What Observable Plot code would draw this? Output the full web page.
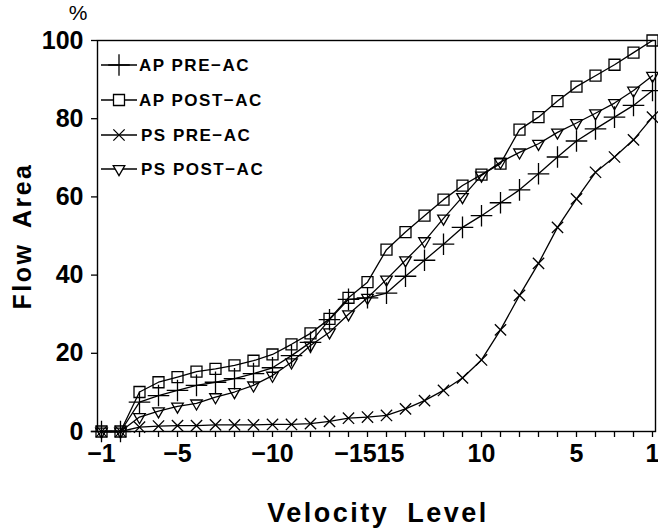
<!DOCTYPE html>
<html>
<head>
<meta charset="utf-8">
<script src="https://cdn.jsdelivr.net/npm/d3@7"></script>
<script src="https://cdn.jsdelivr.net/npm/@observablehq/plot@0.6"></script>
<style>
  html, body { margin: 0; padding: 0; background: #fff; }
  #chart { width: 658px; height: 529px; position: relative; }
</style>
</head>
<body>
<div id="chart"></div>
<script>
// Velocity levels in plotting order (negative side, then positive side)
const velocityLevels = [-1,-2,-3,-4,-5,-6,-7,-8,-9,-10,-11,-12,-13,-14,-15,15,14,13,12,11,10,9,8,7,6,5,4,3,2,1];
const labeledLevels = [-1,-5,-10,-15,15,10,5,1];
const yTicks = [0,20,40,60,80,100];

const seriesNames = ["AP PRE\u2212AC", "AP POST\u2212AC", "PS PRE\u2212AC", "PS POST\u2212AC"];

// Flow area (%) per velocity level
const apPre  = [0,0,7.5,9.2,10.5,11.8,12.6,13.5,14.8,16.3,19.4,22.8,28.6,33.8,34.2,35.4,39.7,43.8,47.9,52.2,55.2,58.5,61.8,65.9,70.2,74.3,77.4,80.4,83.4,87.2];
const apPost = [0,0,10.1,12.6,13.9,15.3,16.0,16.9,18.1,19.7,22.3,25.1,28.8,34.2,38.2,46.5,51.0,55.2,59.3,62.9,65.7,68.5,77.2,80.4,84.5,88.2,91.0,93.8,96.9,100];
const psPre  = [0,0,1.1,1.4,1.5,1.5,1.7,1.7,1.7,1.8,1.8,2.0,2.6,3.4,3.7,4.1,5.8,7.9,10.5,13.7,18.3,26.0,34.8,43.0,52.2,59.5,66.3,70.2,74.6,80.4];
const psPost = [0,0,3.7,5.2,6.4,7.2,8.8,10.1,11.8,14.3,17.7,22.0,25.4,30.0,34.2,38.9,43.8,48.7,54.5,60.0,65.5,68.9,71.4,73.6,76.5,78.9,81.4,84.0,87.2,91.0];

const seriesValues = [apPre, apPost, psPre, psPost];
const symbols = ["plus", "square", "times", "triangle"];
const symbolR = [7, 6.2, 5.2, 4.3];
const symbolRotate = [0, 0, 0, 180];

const table = [];
seriesNames.forEach((name, s) => {
  velocityLevels.forEach((lv, i) => table.push({series: name, s, level: lv, value: seriesValues[s][i]}));
});

const fmtLevel = d => (d < 0 ? "\u2212" + Math.abs(d) : String(d));

const W = 658, H = 529;
const FONT = "'Liberation Sans', Arial, Helvetica, sans-serif";

const dotMarks = seriesNames.map((name, s) =>
  Plot.dot(table.filter(d => d.s === s), {
    x: "level", y: "value", symbol: () => symbols[s], r: symbolR[s],
    rotate: symbolRotate[s], fill: "none", stroke: "black", strokeWidth: 1.3
  })
);

const svg = Plot.plot({
  width: W, height: H,
  marginLeft: 97, marginRight: 3, marginTop: 40, marginBottom: 98,
  style: {fontFamily: FONT, fontWeight: "bold", fontSize: "25px", color: "black", background: "white"},
  x: {type: "point", domain: velocityLevels, padding: 0},
  y: {domain: [0, 100]},
  symbol: {type: "identity"},
  marks: [
    Plot.frame({stroke: "black", strokeWidth: 1.4}),
    Plot.axisY({ticks: yTicks, tickSize: 6, tickPadding: 8, label: null, strokeWidth: 1.3}),
    Plot.axisX({ticks: velocityLevels, tickSize: 6, tickPadding: 7, label: null, strokeWidth: 1.3,
      tickFormat: d => (labeledLevels.includes(d) && Math.abs(d) !== 15) ? fmtLevel(d) : ""}),
    // the two adjacent "15" labels are nudged apart so they read "−1515" as in the original
    Plot.axisX({ticks: [-15], tickSize: 0, tickPadding: 13, dx: -12, label: null, tickFormat: fmtLevel}),
    Plot.axisX({ticks: [15], tickSize: 0, tickPadding: 13, dx: 4, label: null, tickFormat: fmtLevel}),
    Plot.line(table, {x: "level", y: "value", z: "series", stroke: "black", strokeWidth: 1.3}),
    ...dotMarks
  ]
});

document.getElementById("chart").appendChild(svg);

// Titles and legend
const sel = d3.select(svg);
sel.append("text")
  .attr("x", 22).attr("y", 236)
  .attr("transform", "rotate(-90, 22, 236)")
  .attr("text-anchor", "middle").attr("dominant-baseline", "central")
  .style("font-size", "25px").style("font-weight", "bold")
  .style("letter-spacing", "2.5px").style("word-spacing", "6px")
  .text("Flow Area");

sel.append("text")
  .attr("x", 378).attr("y", 522)
  .attr("text-anchor", "middle")
  .style("font-size", "27px").style("font-weight", "bold")
  .style("letter-spacing", "2.5px").style("word-spacing", "8px")
  .text("Velocity Level");

sel.append("text")
  .attr("x", 78).attr("y", 20)
  .attr("text-anchor", "middle")
  .style("font-size", "21px").style("font-weight", "normal")
  .text("%");

const legendRows = [65, 100, 135, 169];
const symMap = {plus: d3.symbolPlus, square: d3.symbolSquare, times: d3.symbolTimes, triangle: d3.symbolTriangle};
const lg = sel.append("g").attr("text-anchor", "start");
seriesNames.forEach((name, s) => {
  const y = legendRows[s];
  const g = lg.append("g");
  g.append("line").attr("x1", 101).attr("x2", 137).attr("y1", y).attr("y2", y)
    .attr("stroke", "black").attr("stroke-width", 1.3);
  g.append("path")
    .attr("d", d3.symbol(symMap[symbols[s]], Math.PI * symbolR[s] * symbolR[s])())
    .attr("transform", `translate(119,${y}) rotate(${symbolRotate[s]})`)
    .attr("fill", "white").attr("stroke", "black").attr("stroke-width", 1.3);
  g.append("text")
    .attr("x", s < 2 ? 139 : 141).attr("y", y)
    .attr("text-anchor", "start")
    .attr("dominant-baseline", "central")
    .style("font-size", "17px").style("font-weight", "bold").style("letter-spacing", "1.5px")
    .text(name);
});
</script>
</body>
</html>
